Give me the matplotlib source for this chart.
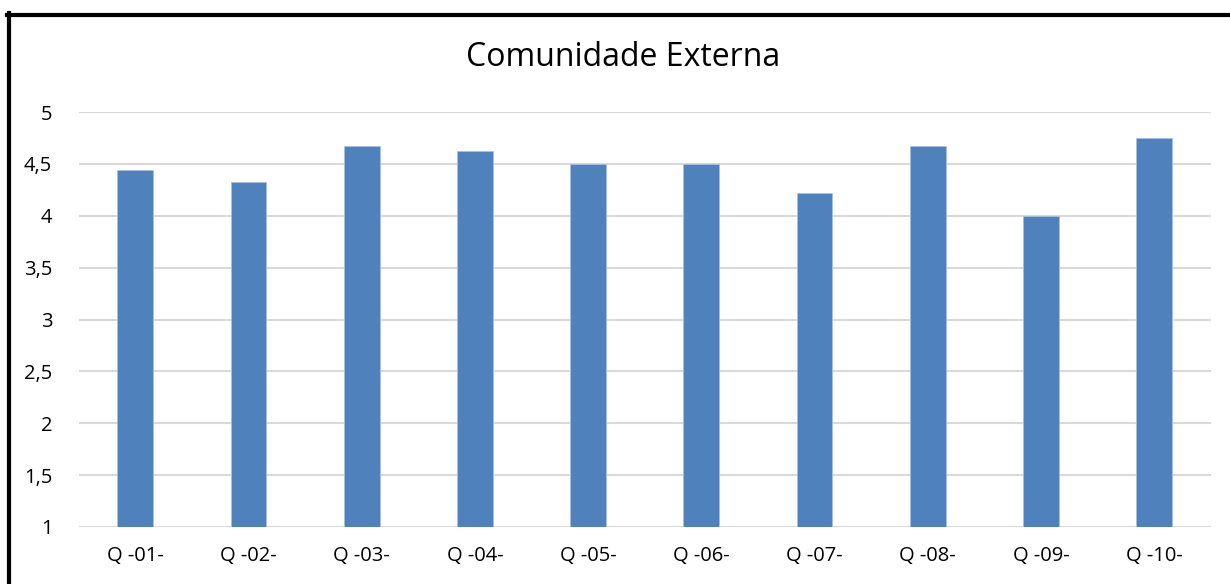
import matplotlib
matplotlib.use("Agg")
import matplotlib.pyplot as plt
from matplotlib.lines import Line2D

categories = ["Q -01-", "Q -02-", "Q -03-", "Q -04-", "Q -05-",
              "Q -06-", "Q -07-", "Q -08-", "Q -09-", "Q -10-"]
values = [4.44, 4.33, 4.67, 4.62, 4.5, 4.5, 4.22, 4.67, 4.0, 4.75]
yticks = [1, 1.5, 2, 2.5, 3, 3.5, 4, 4.5, 5]
ytick_labels = ["1", "1,5", "2", "2,5", "3", "3,5", "4", "4,5", "5"]
title = "Comunidade Externa"

plt.rcParams['font.family'] = ['Open Sans', 'DejaVu Sans']

W, H = 1230, 584
fig = plt.figure(figsize=(W / 100, H / 100), dpi=100)
ax = fig.add_axes([78.7 / W, 1 - 527 / H, (1210.7 - 78.7) / W, (527 - 112) / H])

x = list(range(len(categories)))
ax.bar(x, [v - 1 for v in values], bottom=1, width=0.315, color="#4F81BD",
       edgecolor="#A9C1E0", linewidth=0.6, zorder=3)

ax.set_xlim(-0.5, len(categories) - 0.5)
ax.set_ylim(1, 5)
ax.set_yticks(yticks)
ax.set_yticklabels(ytick_labels, fontsize=14.5)
ax.set_xticks(x)
ax.set_xticklabels(categories, fontsize=14.5)
ax.tick_params(axis='both', length=0, colors="black")
ax.tick_params(axis='y', pad=19)
ax.tick_params(axis='x', pad=14)
ax.grid(axis='y', color="#D9D9D9", linewidth=1.5, zorder=0)
for s in ax.spines.values():
    s.set_visible(False)

fig.text(623.5 / W, 1 - 57 / H, title, ha="center", va="center", fontsize=23)

# outer frame (top and left)
fig.add_artist(Line2D([7 / W, 1.0], [1 - 14.5 / H, 1 - 14.5 / H], color="black",
                      linewidth=3, transform=fig.transFigure))
fig.add_artist(Line2D([9 / W, 9 / W], [1 - 13 / H, 0], color="black",
                      linewidth=3, transform=fig.transFigure))

fig.savefig("out.png", dpi=100, facecolor="white")
